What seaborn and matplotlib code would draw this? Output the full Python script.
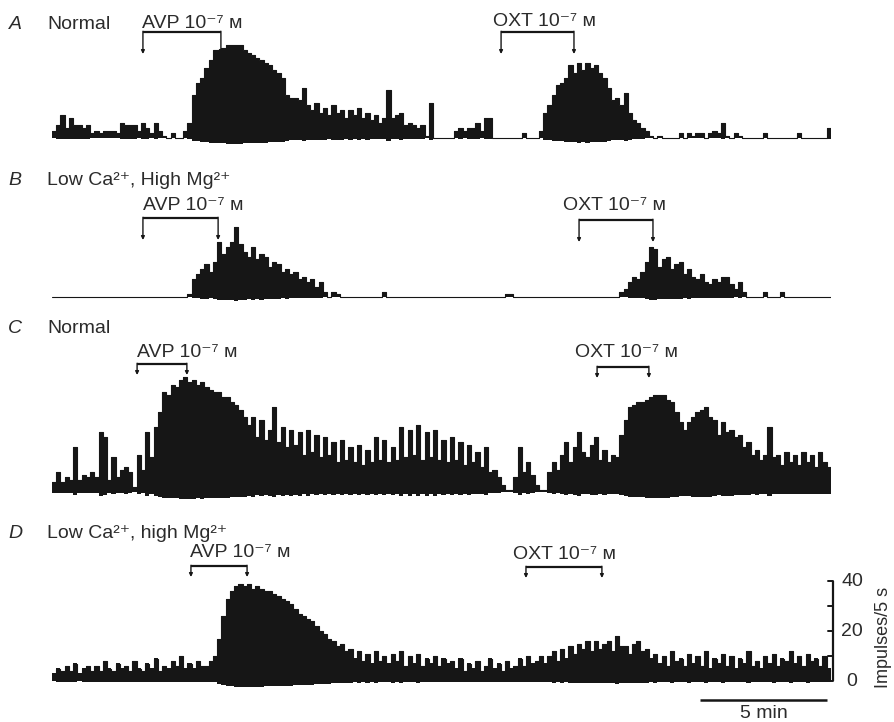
import matplotlib
matplotlib.use("Agg")
import matplotlib.pyplot as plt
import numpy as np
import pandas as pd
import seaborn as sns

# ratemeter records, impulses per bin, one bin = 10 s
BIN_MIN = 10 / 60

trace_a = [3, 5, 9, 4, 8, 5, 5, 4, 5, 2,
           3, 2, 3, 3, 3, 2, 6, 5, 5, 5,
           3, 6, 4, 2, 6, 3, 1, 0, 2, 0,
           0, 3, 6, 17, 22, 24, 28, 31, 35, 35,
           36, 37, 37, 37, 37, 35, 34, 33, 32, 31,
           30, 29, 27, 26, 24, 17, 16, 16, 15, 20,
           13, 11, 14, 10, 12, 9, 13, 10, 11, 8,
           11, 9, 12, 8, 10, 7, 9, 6, 8, 19,
           8, 9, 10, 5, 6, 5, 4, 5, 1, 14,
           0, 0, 0, 0, 0, 3, 4, 3, 4, 4,
           6, 3, 8, 8, 0, 0, 0, 0, 0, 0,
           0, 2, 0, 0, 0, 3, 10, 13, 17, 21,
           22, 24, 29, 26, 30, 27, 30, 28, 29, 26,
           24, 20, 15, 16, 13, 18, 10, 7, 6, 4,
           3, 1, 0, 1, 0, 0, 0, 0, 2, 0,
           2, 1, 2, 2, 0, 2, 3, 2, 6, 1,
           0, 2, 1, 0, 0, 0, 0, 0, 2, 0,
           0, 0, 0, 0, 0, 0, 2, 0, 0, 0,
           0, 0, 0, 4]

trace_b = [0, 0, 0, 0, 0, 0, 0, 0, 0, 0,
           0, 0, 0, 0, 0, 0, 0, 0, 0, 0,
           0, 0, 0, 0, 0, 0, 0, 0, 0, 0,
           0, 0, 1, 7, 9, 11, 13, 10, 14, 22,
           17, 20, 22, 28, 21, 18, 16, 20, 15, 17,
           16, 12, 14, 13, 10, 11, 9, 10, 7, 8,
           6, 7, 4, 6, 2, 0, 2, 1, 0, 0,
           0, 0, 0, 0, 0, 0, 0, 0, 2, 0,
           0, 0, 0, 0, 0, 0, 0, 0, 0, 0,
           0, 0, 0, 0, 0, 0, 0, 0, 0, 0,
           0, 0, 0, 0, 0, 0, 0, 1, 1, 0,
           0, 0, 0, 0, 0, 0, 0, 0, 0, 0,
           0, 0, 0, 0, 0, 0, 0, 0, 0, 0,
           0, 0, 0, 0, 2, 3, 6, 8, 7, 10,
           14, 20, 19, 12, 15, 16, 11, 13, 14, 9,
           11, 8, 7, 9, 6, 5, 7, 6, 8, 8,
           5, 3, 6, 2, 0, 0, 0, 0, 2, 0,
           0, 0, 2, 0, 0, 0, 0, 0, 0, 0,
           0, 0, 0, 0]

trace_c = [4, 8, 4, 6, 5, 18, 5, 7, 6, 8,
           6, 24, 22, 5, 14, 6, 9, 10, 8, 2,
           15, 9, 24, 14, 26, 32, 40, 39, 43, 42,
           45, 46, 44, 45, 43, 44, 42, 41, 40, 40,
           38, 38, 36, 35, 33, 30, 27, 30, 22, 29,
           21, 25, 34, 20, 26, 18, 25, 19, 24, 15,
           25, 16, 23, 14, 22, 15, 20, 12, 21, 13,
           18, 12, 19, 11, 17, 12, 22, 13, 21, 12,
           18, 13, 26, 14, 25, 15, 27, 13, 24, 14,
           25, 13, 21, 12, 22, 13, 20, 11, 19, 12,
           16, 10, 18, 8, 9, 6, 3, 1, 1, 6,
           18, 8, 12, 7, 3, 1, 1, 8, 12, 9,
           15, 20, 12, 18, 24, 16, 14, 19, 22, 13,
           17, 12, 15, 14, 23, 29, 34, 35, 36, 36,
           37, 38, 39, 39, 39, 37, 36, 32, 28, 25,
           28, 30, 32, 33, 34, 30, 29, 23, 28, 24,
           25, 22, 23, 18, 20, 15, 17, 13, 15, 26,
           14, 15, 11, 16, 12, 15, 11, 16, 12, 15,
           10, 16, 12, 10]

trace_d = [3, 5, 4, 6, 4, 7, 3, 5, 6, 4,
           6, 4, 8, 5, 4, 7, 5, 6, 4, 8,
           5, 4, 7, 5, 9, 4, 6, 5, 8, 6,
           10, 5, 7, 5, 8, 6, 6, 8, 10, 17,
           26, 33, 36, 38, 39, 38, 39, 37, 38, 37,
           36, 36, 35, 34, 33, 32, 31, 29, 27, 26,
           25, 24, 22, 20, 19, 17, 16, 14, 15, 12,
           13, 9, 12, 8, 11, 7, 12, 8, 10, 7,
           11, 8, 12, 6, 10, 7, 11, 6, 9, 7,
           10, 6, 9, 7, 8, 5, 9, 4, 7, 5,
           8, 4, 6, 9, 5, 7, 4, 8, 5, 6,
           9, 6, 10, 7, 8, 10, 7, 10, 12, 8,
           13, 9, 14, 11, 15, 13, 16, 12, 16, 13,
           15, 16, 12, 18, 14, 14, 11, 15, 16, 12,
           13, 9, 11, 7, 10, 6, 12, 8, 9, 6,
           11, 7, 10, 6, 12, 5, 9, 7, 11, 6,
           10, 5, 9, 7, 12, 6, 8, 5, 10, 7,
           11, 6, 9, 8, 12, 7, 10, 6, 11, 8,
           9, 6, 10, 5]

traces = [trace_a, trace_b, trace_c, trace_d]
panel_letters = ["A", "B", "C", "D"]
panel_titles = ["Normal", "Low Ca²⁺, High Mg²⁺", "Normal", "Low Ca²⁺, high Mg²⁺"]

# drug applications, minutes from start of record
avp_on = [3.58, 3.58, 3.35, 5.47]
avp_off = [6.65, 6.54, 5.31, 7.68]
oxt_on = [17.68, 20.75, 21.46, 18.66]
oxt_off = [20.55, 23.66, 23.50, 21.65]
avp_label = "AVP 10⁻⁷ м"
oxt_label = "OXT 10⁻⁷ м"

scale_ticks = [0, 10, 20, 30, 40]
scale_ticklabels = ["0", "", "20", "", "40"]
scale_unit = "Impulses/5 s"
time_bar_min = 5

# layout (pixels of a 894x722 figure)
W, H = 894, 722
X0 = 52
PX_PER_MIN = 25.4
PX_PER_IMP = 2.5
baseline_px = [138, 297, 492, 681]
label_base_px = [29, 185, 333, 538]
# bracket level, arm tip, text baseline (impulses) and text start (min) for AVP / OXT
avp_style = [(42.4, 33.6, 43.8, 3.54), (31.6, 22.8, 34.6, 3.58),
             (51.2, 46.8, 54.0, 3.35), (46.0, 41.6, 49.6, 5.43)]
oxt_style = [(42.4, 33.6, 44.6, 17.36), (30.8, 22.0, 34.6, 20.12),
             (50.0, 45.6, 54.0, 20.59), (45.6, 41.2, 48.8, 18.15)]

INK = "#161616"
TXT = "#2b2b2b"
FONT = ["Liberation Sans", "DejaVu Sans"]

sns.set_theme(style="white")
plt.rcParams["font.family"] = FONT

fig = plt.figure(figsize=(W / 100, H / 100), dpi=100)
fig.patch.set_facecolor("white")

YLO, YHI = -5, 52
n_bins = len(trace_a)
xmax = n_bins * BIN_MIN

for i, vals in enumerate(traces):
    b = baseline_px[i]
    bottom = b + (-YLO) * PX_PER_IMP
    height = (YHI - YLO) * PX_PER_IMP
    ax = fig.add_axes([X0 / W, 1 - bottom / H, xmax * PX_PER_MIN / W, height / H])
    ax.patch.set_alpha(0)

    df = pd.DataFrame({"t": np.arange(len(vals) + 1) * BIN_MIN,
                       "rate": list(vals) + [vals[-1]]})
    v = df["rate"].to_numpy(dtype=float)
    ax.fill_between(df["t"], -0.06 * v, v, step="post", color=INK, lw=0)
    sns.lineplot(data=df, x="t", y="rate", drawstyle="steps-post", color=INK,
                 lw=0.8, estimator=None, ax=ax)
    ax.set_xlim(0, xmax)
    ax.set_ylim(YLO, YHI)
    ax.axis("off")

    for on, off, sty, lab in [(avp_on[i], avp_off[i], avp_style[i], avp_label),
                              (oxt_on[i], oxt_off[i], oxt_style[i], oxt_label)]:
        top, tip, ty, tx = sty
        ax.plot([on, off], [top, top], color=INK, lw=1.6, clip_on=False,
                solid_capstyle="butt")
        for t in (on, off):
            ax.annotate("", xy=(t, tip), xytext=(t, top + 0.3),
                        arrowprops=dict(arrowstyle="-|>", color=INK, lw=1.0,
                                        mutation_scale=5, shrinkA=0, shrinkB=0),
                        annotation_clip=False)
        ax.text(tx, ty, lab, fontsize=14, color=TXT, ha="left", va="baseline",
                family=FONT, clip_on=False)

    fig.text(15 / W, 1 - label_base_px[i] / H, panel_letters[i], fontsize=14,
             style="italic", color=TXT, ha="center", va="baseline", family=FONT)
    fig.text(47 / W, 1 - label_base_px[i] / H, panel_titles[i], fontsize=14,
             color=TXT, ha="left", va="baseline", family=FONT)

    if i == 3:
        xs = (833 - X0) / PX_PER_MIN
        ax.plot([xs, xs], [scale_ticks[0], scale_ticks[-1]], color=INK, lw=1.6,
                clip_on=False, solid_capstyle="butt")
        for tk, tl in zip(scale_ticks, scale_ticklabels):
            ax.plot([xs - 0.2, xs], [tk, tk], color=INK, lw=1.4, clip_on=False)
            if tl:
                ax.text(xs + 0.75, tk, tl, fontsize=14, color=TXT, ha="center",
                        va="center", family=FONT, clip_on=False)
        ax.text((883 - X0) / PX_PER_MIN, 17.5, scale_unit, fontsize=13, color=TXT,
                rotation=90, ha="center", va="center", family=FONT, clip_on=False)
        bar_end = (827 - X0) / PX_PER_MIN
        bar_y = -(700 - b) / PX_PER_IMP
        ax.plot([bar_end - time_bar_min, bar_end], [bar_y, bar_y], color=INK,
                lw=1.8, clip_on=False, solid_capstyle="butt")
        ax.text(bar_end - time_bar_min / 2, -(713 - b) / PX_PER_IMP,
                f"{time_bar_min} min", fontsize=14, color=TXT, ha="center",
                va="center", family=FONT, clip_on=False)

fig.savefig("out.png", dpi=100, facecolor="white")
